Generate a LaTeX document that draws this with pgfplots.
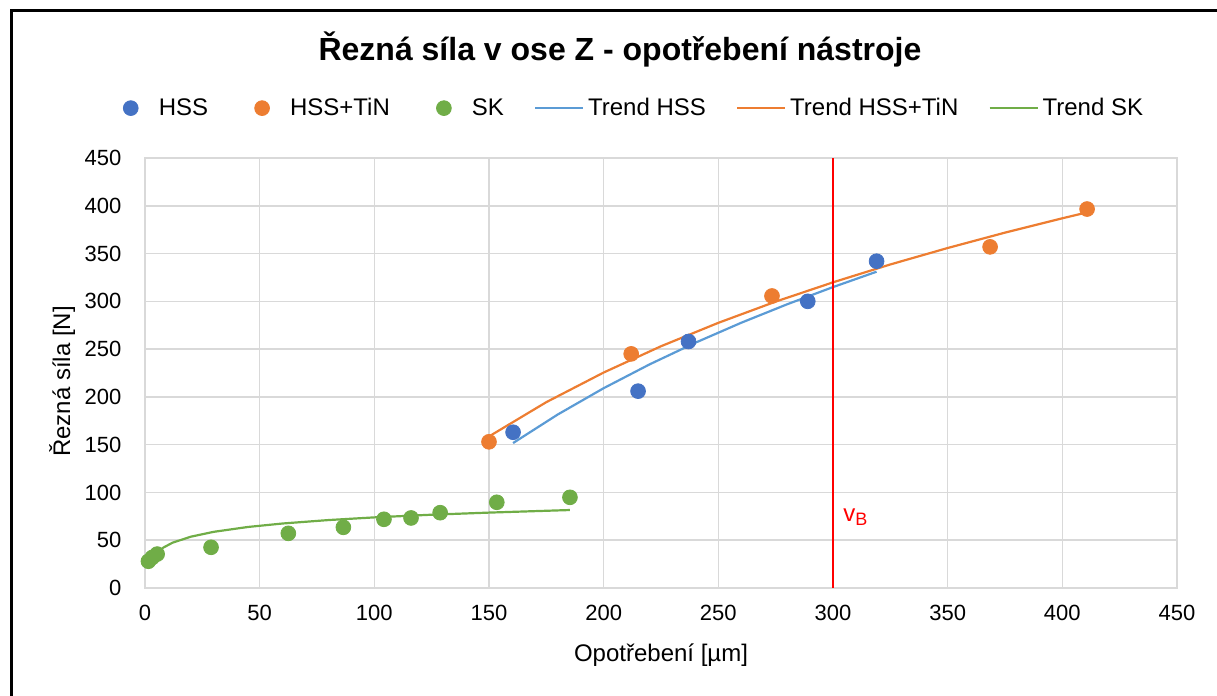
\documentclass[border=0pt]{standalone}
\usepackage{fontspec}
\setmainfont{Liberation Sans}
\usepackage{pgfplots}
\pgfplotsset{compat=1.18}
\definecolor{cHSS}{HTML}{4472C4}
\definecolor{cTiN}{HTML}{ED7D31}
\definecolor{cSK}{HTML}{70AD47}
\definecolor{cTHSS}{HTML}{5B9BD5}
\definecolor{cgrid}{HTML}{D9D9D9}
\begin{document}
\begin{tikzpicture}
\useasboundingbox (0,0) rectangle (608.5pt,348pt);
\draw[line width=1.5pt, black] (5.75pt,-2pt) -- (5.75pt,342.75pt) -- (612pt,342.75pt);
\node[font=\bfseries\fontsize{16}{19}\selectfont] at (310pt,323.5pt) {Řezná síla v ose Z - opotřebení nástroje};
\begin{axis}[
  at={(72.5pt,54pt)}, anchor=south west,
  scale only axis, width=516pt, height=215pt,
  xmin=0, xmax=450, ymin=0, ymax=450,
  xtick={0,50,...,450}, ytick={0,50,...,450},
  grid=major, major grid style={cgrid, line width=0.75pt},
  axis line style={cgrid, line width=0.75pt},
  major tick length=0pt,
  tick label style={font=\fontsize{11}{13}\selectfont, text=black},
  /pgf/number format/assume math mode=true,
  xticklabel style={anchor=base, yshift=-16.5pt},
  yticklabel style={anchor=east, xshift=-8.3pt},
  xlabel={Opotřebení [µm]}, ylabel={Řezná síla [N]},
  every axis x label/.style={at={(axis description cs:0.5,0)}, anchor=center, yshift=-33.5pt, font=\fontsize{12}{14}\selectfont},
  every axis y label/.style={at={(axis description cs:-0.0804,0.48)}, anchor=center, rotate=90, font=\fontsize{12}{14}\selectfont},
  legend image code/.code={\path[draw=none,fill=none] (0pt,-3pt) rectangle (24pt,3pt);\draw[mark repeat=2,mark phase=2,#1] plot coordinates {(0pt,0pt)(12pt,0pt)(24pt,0pt)};},
  legend style={at={(0.467,1.116)}, anchor=center, draw=none, fill=none, legend columns=6,
    font=\fontsize{12}{14}\selectfont,
    /tikz/every even column/.append style={column sep=13pt}},
]
\addplot[only marks, mark=*, mark size=3.7pt, color=cHSS] coordinates {
(160.5,163) (215,206) (237,258) (289,300) (319,342)};
\addlegendentry{HSS}
\addplot[only marks, mark=*, mark size=3.7pt, color=cTiN] coordinates {
(150,153) (212,245) (273.4,305.6) (368.5,357) (410.8,396.6)};
\addlegendentry{HSS+TiN}
\addplot[only marks, mark=*, mark size=3.7pt, color=cSK] coordinates {
(1.5,28) (3.2,32) (5.3,35.5) (28.8,42.6) (62.5,57.2) (86.5,63.5) (104.2,71.9) (116,73.3) (128.7,78.8) (153.4,89.7) (185.3,94.9)};
\addlegendentry{SK}
\addplot[no marks, color=cTHSS, line width=1.1pt] coordinates {
(160.5,151.7) (180,181.6) (200,209.1) (220,234.0) (240,256.7) (260,277.6) (280,296.9) (300,314.9) (319,331.0)};
\addlegendentry{Trend HSS}
\addplot[no marks, color=cTiN, line width=1.1pt] coordinates {
(150,158.6) (175,194.5) (200,225.5) (225,253.0) (250,277.5) (275,299.7) (300,319.9) (325,338.6) (350,355.8) (375,371.9) (400,386.9) (410.8,393.1)};
\addlegendentry{Trend HSS+TiN}
\addplot[no marks, color=cSK, line width=1.1pt] coordinates {
(1.5,21.4) (2,25.0) (3,30.0) (5,36.4) (8,42.3) (12,47.4) (20,53.7) (30,58.8) (45,63.9) (60,67.5) (80,71.1) (100,73.9) (125,76.7) (150,78.9) (185.3,81.6)};
\addlegendentry{Trend SK}
\addplot[no marks, color=red, line width=1pt, forget plot] coordinates {(300,0) (300,450)};
\node[anchor=base west, text=red, font=\fontsize{12}{14}\selectfont, inner sep=0pt] at (axis cs:304.4,70) {v\raisebox{-0.35ex}{\fontsize{9}{10}\selectfont B}};
\end{axis}
\end{tikzpicture}
\end{document}
